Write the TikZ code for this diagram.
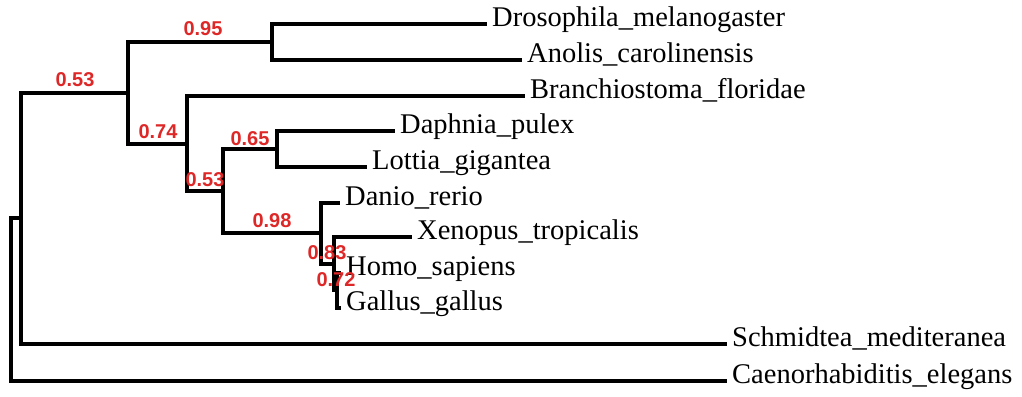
\documentclass[tikz,border=0pt]{standalone}
\usepackage{fontspec}
\setmainfont{Liberation Serif}
\newfontfamily\lblfont{Liberation Sans}
\definecolor{suppred}{RGB}{222,40,40}
\begin{document}
\begin{tikzpicture}[x=1pt,y=-1pt,
  edge/.style={line width=3.6pt,line join=miter,line cap=rect},
  leaf/.style={anchor=west,inner xsep=7pt,inner ysep=0pt,font=\fontsize{28.5}{30}\selectfont,text height=0.7em,text depth=0.25em},
  supp/.style={font=\lblfont\bfseries\fontsize{20}{22}\selectfont,text=suppred,inner sep=0pt}]
\useasboundingbox (0,0) rectangle (1022,396);
% internal nodes
\coordinate (R) at (11,298);
\coordinate (A) at (21,218);
\coordinate (B) at (128,93);
\coordinate (C) at (272,42);
\coordinate (D) at (187,144);
\coordinate (E) at (223,191);
\coordinate (F) at (277,149);
\coordinate (G) at (321,233);
\coordinate (H) at (334,264);
\coordinate (I) at (337,290);
% leaves
\node[leaf] (dros) at (485,24) {Drosophila\_melanogaster};
\node[leaf] (anol) at (520,60) {Anolis\_carolinensis};
\node[leaf] (bran) at (523,96) {Branchiostoma\_floridae};
\node[leaf] (daph) at (393,131) {Daphnia\_pulex};
\node[leaf] (lott) at (365,167) {Lottia\_gigantea};
\node[leaf] (dani) at (338,203) {Danio\_rerio};
\node[leaf] (xeno) at (410,237) {Xenopus\_tropicalis};
\node[leaf] (homo) at (339,273) {Homo\_sapiens};
\node[leaf] (gall) at (339,308) {Gallus\_gallus};
\node[leaf] (schm) at (725,344) {Schmidtea\_mediteranea};
\node[leaf] (caen) at (725,381) {Caenorhabiditis\_elegans};
% edges
\draw[edge] (R) |- (A);
\draw[edge] (R) |- (caen.west);
\draw[edge] (A) |- (B);
\draw[edge] (A) |- (schm.west);
\draw[edge] (B) |- (C);
\draw[edge] (B) |- (D);
\draw[edge] (C) |- (dros.west);
\draw[edge] (C) |- (anol.west);
\draw[edge] (D) |- (bran.west);
\draw[edge] (D) |- (E);
\draw[edge] (E) |- (F);
\draw[edge] (E) |- (G);
\draw[edge] (F) |- (daph.west);
\draw[edge] (F) |- (lott.west);
\draw[edge] (G) |- (dani.west);
\draw[edge] (G) |- (H);
\draw[edge] (H) |- (xeno.west);
\draw[edge] (H) |- (I);
\draw[edge] (I) |- (homo.west);
\draw[edge] (I) |- (gall.west);
% support values
\node[supp] (sA) at (75,80) {0.53};
\node[supp] (sC) at (203,29) {0.95};
\node[supp] (sD) at (158,132) {0.74};
\node[supp] (sF) at (250,139) {0.65};
\node[supp] (sE) at (205,180) {0.53};
\node[supp] (sG) at (272,221) {0.98};
\node[supp] (sH) at (327,253) {0.83};
\node[supp] (sI) at (336,280) {0.72};
\end{tikzpicture}
\end{document}
